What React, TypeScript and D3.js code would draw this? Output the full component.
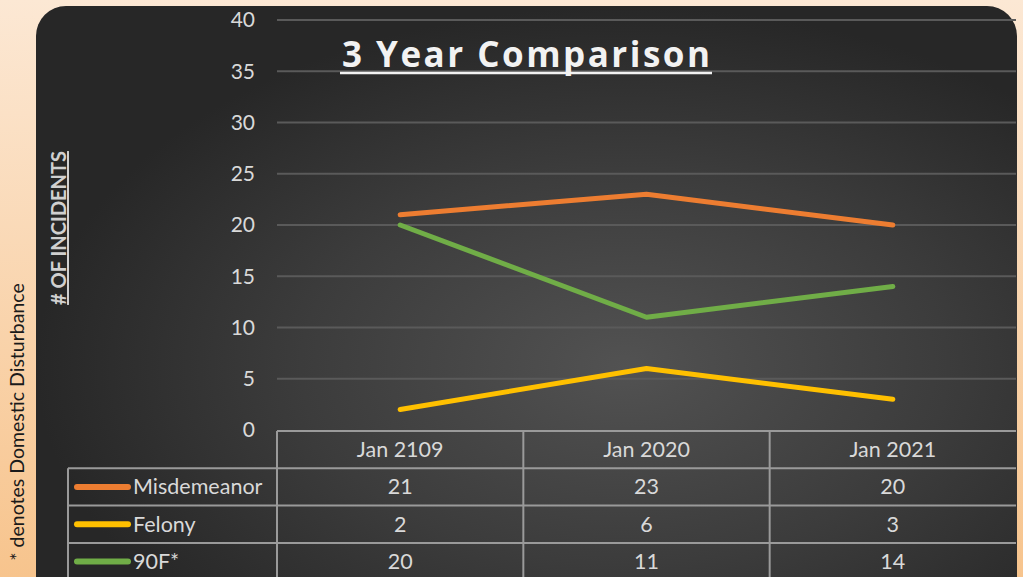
import React from "react";
import * as d3 from "d3";

const categories = ["Jan 2109", "Jan 2020", "Jan 2021"];
const seriesNames = ["Misdemeanor", "Felony", "90F*"];
const misdemeanor = [21, 23, 20];
const felony = [2, 6, 3];
const dom = [20, 11, 14];
const yTicks = [0, 5, 10, 15, 20, 25, 30, 35, 40];
const colors = ["#ED7D31", "#FFC000", "#70AD47"];

const W = 1023;
const H = 577;
const FONT = "Lato, 'Open Sans', sans-serif";

export default function App() {
  const series = [misdemeanor, felony, dom];
  const plotL = 277;
  const plotR = 1016;
  const x = d3.scaleBand<string>().domain(categories).range([plotL, plotR]);
  const y = d3.scaleLinear().domain([0, 40]).range([430, 20]);
  const line = d3
    .line<number>()
    .x((_, i) => (x(categories[i]) as number) + x.bandwidth() / 2)
    .y((d) => y(d));

  const rowTop = 431;
  const rowH = 37.3;
  const tableLeft = 68;

  return (
    <svg
      width={W}
      height={H}
      style={{ position: "absolute", left: 0, top: 0 }}
      xmlns="http://www.w3.org/2000/svg"
    >
      <defs>
        <linearGradient id="bg" x1="0" y1="0" x2="0" y2="1">
          <stop offset="0" stopColor="#fce8d4" />
          <stop offset="1" stopColor="#f7c48d" />
        </linearGradient>
        <radialGradient id="panel" cx="0.6" cy="0.6" r="0.6" fx="0.6" fy="0.6">
          <stop offset="0" stopColor="#525252" />
          <stop offset="0.55" stopColor="#3c3c3c" />
          <stop offset="1" stopColor="#272727" />
        </radialGradient>
      </defs>
      <rect x={0} y={0} width={W} height={H} fill="url(#bg)" />
      <rect x={36} y={6} width={981} height={600} rx={30} ry={30} fill="url(#panel)" />

      {/* gridlines */}
      {yTicks.filter((t) => t > 0).map((t) => (
        <line key={t} x1={plotL} x2={plotR} y1={y(t)} y2={y(t)} stroke="#5a5a5a" strokeWidth={2} />
      ))}
      {yTicks.map((t) => (
        <text
          key={"l" + t}
          x={255}
          y={y(t)}
          dy="0.35em"
          textAnchor="end"
          fill="#d9d9d9"
          fontSize={21}
          fontFamily={FONT}
        >
          {t}
        </text>
      ))}

      {/* title */}
      <text
        x={526}
        y={67}
        textAnchor="middle"
        fill="#f2f2f2"
        fontSize={35}
        fontWeight="bold"
        fontFamily="'Open Sans', Lato, sans-serif"
        textLength={368}
        lengthAdjust="spacing"
      >
        3 Year Comparison
      </text>
      <line x1={340} x2={712} y1={73} y2={73} stroke="#f2f2f2" strokeWidth={2.5} />

      {/* y axis title */}
      <g transform="translate(66,228) rotate(-90)">
        <text textAnchor="middle" fill="#d0d0d0" fontSize={20} fontWeight="bold" fontFamily={FONT} textDecoration="underline">
          # OF INCIDENTS
        </text>
      </g>

      {/* side note */}
      <g transform="translate(24,422) rotate(-90)">
        <text textAnchor="middle" fill="#1a1a1a" fontSize={19.5} fontFamily={FONT}>
          * denotes Domestic Disturbance
        </text>
      </g>

      {/* lines */}
      {series.map((s, i) => (
        <path key={i} d={line(s) || ""} fill="none" stroke={colors[i]} strokeWidth={5} strokeLinejoin="round" strokeLinecap="round" />
      ))}

      {/* data table */}
      <g stroke="#9a9a9a" strokeWidth={2}>
        <line x1={plotL} x2={plotR} y1={rowTop} y2={rowTop} />
        {[1, 2, 3].map((r) => (
          <line key={r} x1={tableLeft} x2={plotR} y1={rowTop + rowH * r} y2={rowTop + rowH * r} />
        ))}
        <line x1={tableLeft} x2={tableLeft} y1={rowTop + rowH} y2={H} />
        {categories.map((c) => (
          <line key={c} x1={x(c) as number} x2={x(c) as number} y1={rowTop} y2={H} />
        ))}
      </g>
      {categories.map((c) => (
        <text
          key={"h" + c}
          x={(x(c) as number) + x.bandwidth() / 2}
          y={rowTop + rowH / 2}
          dy="0.35em"
          textAnchor="middle"
          fill="#d9d9d9"
          fontSize={21.5}
          fontFamily={FONT}
        >
          {c}
        </text>
      ))}
      {series.map((s, r) => {
        const cy = rowTop + rowH * (r + 1) + rowH / 2;
        return (
          <g key={"r" + r}>
            <line x1={77} x2={128} y1={cy} y2={cy} stroke={colors[r]} strokeWidth={6} strokeLinecap="round" />
            <text x={133} y={cy} dy="0.35em" fill="#d9d9d9" fontSize={21.5} fontFamily={FONT}>
              {seriesNames[r]}
            </text>
            {s.map((v, i) => (
              <text
                key={i}
                x={(x(categories[i]) as number) + x.bandwidth() / 2}
                y={cy}
                dy="0.35em"
                textAnchor="middle"
                fill="#d9d9d9"
                fontSize={21.5}
                fontFamily={FONT}
              >
                {v}
              </text>
            ))}
          </g>
        );
      })}
    </svg>
  );
}
